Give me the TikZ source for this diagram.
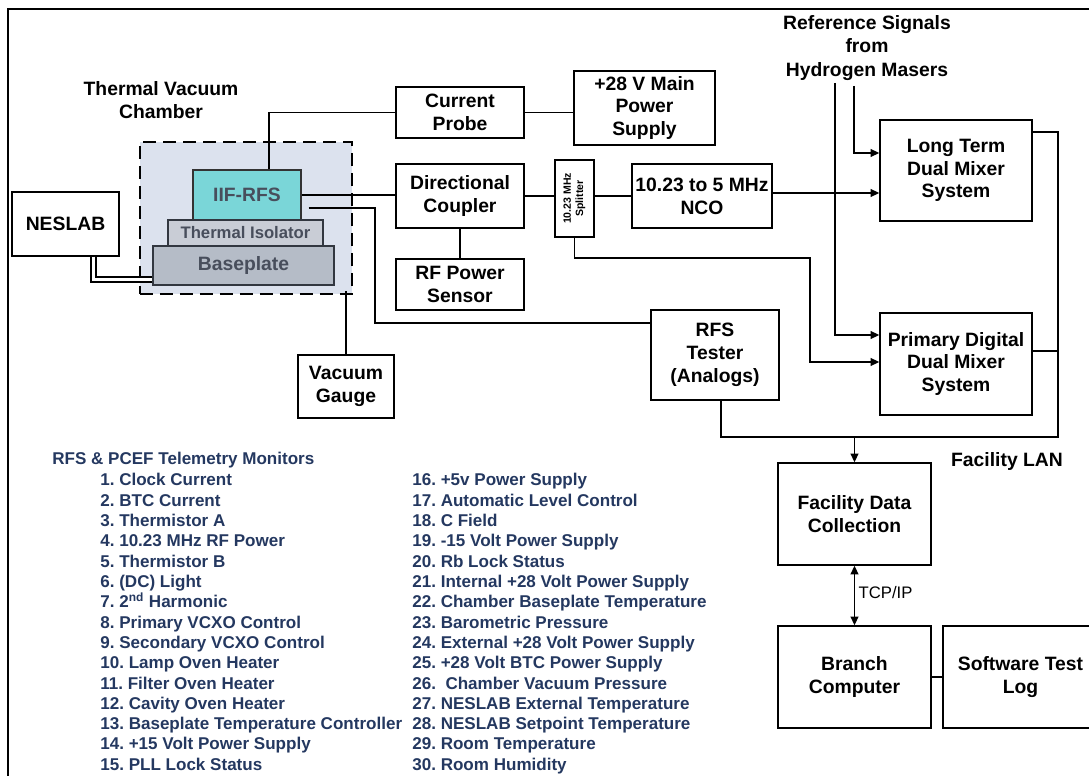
\documentclass[tikz,border=0pt]{standalone}
\usepackage{fontspec}
\setmainfont{Liberation Sans}
\usetikzlibrary{arrows.meta}

\definecolor{chamberfill}{RGB}{220,226,238}
\definecolor{rfsfill}{RGB}{122,214,216}
\definecolor{isofill}{RGB}{201,205,214}
\definecolor{platefill}{RGB}{181,188,199}
\definecolor{innertext}{RGB}{72,78,92}
\definecolor{listblue}{RGB}{36,56,96}

\begin{document}
\frenchspacing
\begin{tikzpicture}[x=0.02cm,y=-0.02cm]

\def\px{0.02cm}
\def\rowsep{20.3}
\def\rowtop{486}

\tikzset{box/.style = {draw, line width=0.8pt, align=center, inner sep=0pt, font=\bfseries\fontsize{11}{13}\selectfont}}
\tikzset{inner/.style = {box, draw=innertext!70!black, text=innertext}}
\tikzset{chamber/.style = {draw, fill=chamberfill, line width=1.7pt, dash pattern=on 0.26cm off 0.14cm}}
\tikzset{caption/.style = {align=center, inner sep=1pt, font=\bfseries\fontsize{11}{13.5}\selectfont}}
\tikzset{wire/.style = {line width=0.8pt}}
\tikzset{sig/.style = {wire, -{Triangle[length=5pt,width=4.5pt]}}}
\tikzset{pipe/.style = {double, double distance=0.05cm, line width=1.1pt}}
\tikzset{item/.style = {anchor=base west, inner sep=0pt, text=listblue, font=\bfseries\fontsize{9.7}{12}\selectfont}}

\useasboundingbox (0,0) rectangle (1089,776);
\draw[line width=1.2pt] (8,9) rectangle (1120,800);

% chamber
\node[chamber, minimum width={212*\px}, minimum height={152*\px}] (tvc) at (246,218) {};
\node[caption] (tvctitle) at (161,100) {Thermal Vacuum\\Chamber};
\node[inner, fill=rfsfill, draw=black!80, minimum width={108*\px}, minimum height={50*\px}] (rfs) at (247,195) {IIF-RFS};
\node[inner, fill=isofill, minimum width={155*\px}, minimum height={26*\px}, font=\bfseries\fontsize{9.5}{11}\selectfont] (iso) at (245.5,233) {Thermal Isolator};
\node[inner, fill=platefill, minimum width={181*\px}, minimum height={39*\px}] (plate) at (243.5,265.5) {Baseplate};

\node[box, minimum width={107*\px}, minimum height={64*\px}] (neslab) at (65.5,224) {NESLAB};
\node[box, minimum width={96*\px}, minimum height={63*\px}] (gauge) at (346,386.5) {Vacuum\\Gauge};

% rf chain
\node[box, minimum width={128*\px}, minimum height={51*\px}] (probe) at (460,112.5) {Current\\Probe};
\node[box, minimum width={141*\px}, minimum height={74*\px}] (mainps) at (644.5,108) {+28 V Main\\Power\\Supply};
\node[box, minimum width={128*\px}, minimum height={64*\px}] (coupler) at (460,196) {Directional\\Coupler};
\node[box, minimum width={128*\px}, minimum height={51*\px}] (sensor) at (460,284.5) {RF Power\\Sensor};
\node[box, minimum width={39*\px}, minimum height={77*\px}] (splitter) at (574.5,198.5) {};
\node[rotate=90, align=center, inner sep=0pt, font=\bfseries\fontsize{6}{7}\selectfont] (splittxt) at (splitter) {10.23 MHz\\Splitter};
\node[box, minimum width={140*\px}, minimum height={64*\px}] (nco) at (702,196) {10.23 to 5 MHz\\NCO};
\node[box, minimum width={128*\px}, minimum height={90*\px}] (tester) at (715,355) {RFS\\Tester\\(Analogs)};

% mixers
\node[caption] (refsig) at (867,48) {Reference Signals\\from\\Hydrogen Masers};
\node[box, minimum width={152*\px}, minimum height={101*\px}] (longterm) at (956,170.5) {Long Term\\Dual Mixer\\System};
\node[box, minimum width={152*\px}, minimum height={102*\px}] (primary) at (956,364) {Primary Digital\\Dual Mixer\\System};

% facility
\node[caption] (lan) at (1007,462) {Facility LAN};
\node[box, minimum width={153*\px}, minimum height={102*\px}] (fdc) at (854.5,514) {Facility Data\\Collection};
\node[box, minimum width={153*\px}, minimum height={102*\px}] (branch) at (854.5,677) {Branch\\Computer};
\node[box, minimum width={155*\px}, minimum height={102*\px}] (swlog) at (1020.5,677) {Software Test\\Log};

\coordinate (sbend) at (810,258);
\coordinate (tbend) at (375,208);
\coordinate (lanr) at (1058,437);
\path (gauge.north |- tvc.south) ++(0,-4) coordinate (gtop);

\draw[pipe] ([xshift=28*\px]neslab.south) |- ([yshift=-14*\px]plate.west);
\draw[wire] ([xshift=22*\px]rfs.north) |- (probe.west);
\draw[wire] (probe.east) -- (probe.east -| mainps.west);
\draw[wire] (rfs.east) -- (rfs.east -| coupler.west);
\draw[wire] (coupler.south) -- (sensor.north);
\draw[wire] (coupler.east) -- (coupler.east -| splitter.west);
\draw[wire] (nco.west -| splitter.east) -- (nco.west);
\draw[sig] ([yshift=3*\px]nco.east) -- ([yshift=3*\px]nco.east -| longterm.west);
\draw[sig] ([xshift=-13*\px,yshift=-3*\px]refsig.south) |- ([yshift=17.5*\px]longterm.west);
\draw[sig] ([xshift=-32*\px]refsig.south) |- ([yshift=29*\px]primary.west);
\draw[sig] (splitter.south) |- (sbend) |- ([yshift=2*\px]primary.west);
\draw[wire] ([yshift=-13*\px]rfs.east) ++(7,0) -- (tbend) |- ([yshift=32*\px]tester.west);
\draw[wire] (gtop) -- (gauge.north);
\draw[wire] ([yshift=38.5*\px]longterm.east) -| (lanr) -| ([xshift=6*\px]tester.south);
\draw[wire] ([yshift=13*\px]primary.east) -- ([yshift=13*\px]primary.east -| lanr);
\draw[sig] (fdc.north |- lanr) -- (fdc.north);
\draw[wire, {Triangle[length=5pt,width=4.5pt]}-{Triangle[length=5pt,width=4.5pt]}] (fdc.south) -- (branch.north) node[pos=0.45, right, inner sep=2pt, font=\fontsize{9.5}{11}\selectfont] (tcp) {TCP/IP};
\draw[line width=1.6pt] (branch.east) -- (swlog.west);

% telemetry list
\node[item] (monhead) at (52,465) {RFS \& PCEF Telemetry Monitors};
\foreach \txt [count=\i] in {Clock Current, BTC Current, Thermistor A, 10.23 MHz RF Power, Thermistor B, (DC) Light, {2\textsuperscript{nd} Harmonic}, Primary VCXO Control, Secondary VCXO Control, Lamp Oven Heater, Filter Oven Heater, Cavity Oven Heater, Baseplate Temperature Controller, +15 Volt Power Supply, PLL Lock Status}
  \node[item] (mon\i) at (100,{\rowtop+\rowsep*(\i-1)}) {\i. \txt};
\foreach \txt [count=\i from 16] in {+5v Power Supply, Automatic Level Control, C Field, -15 Volt Power Supply, Rb Lock Status, Internal +28 Volt Power Supply, Chamber Baseplate Temperature, Barometric Pressure, External +28 Volt Power Supply, +28 Volt BTC Power Supply, {\ Chamber Vacuum Pressure}, NESLAB External Temperature, NESLAB Setpoint Temperature, Room Temperature, Room Humidity}
  \node[item] (mon\i) at (412,{\rowtop+\rowsep*(\i-16)}) {\i. \txt};

\end{tikzpicture}
\end{document}
